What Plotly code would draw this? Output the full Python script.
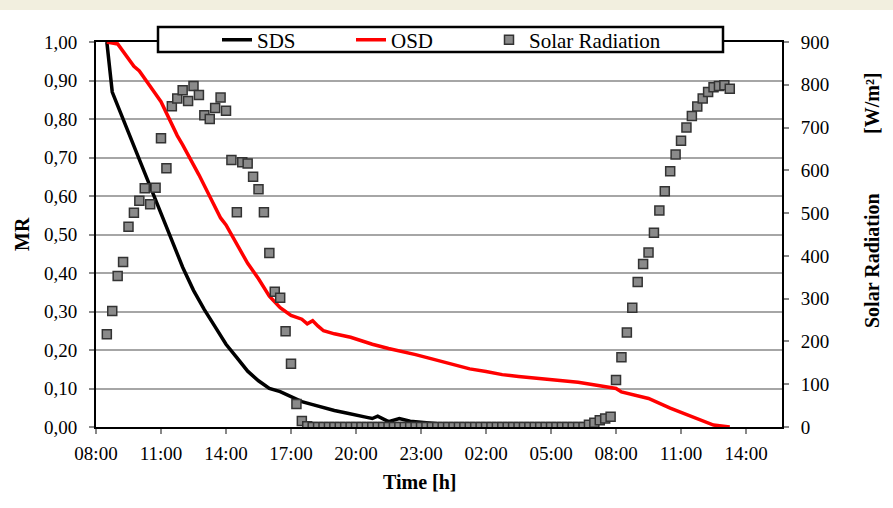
import plotly.graph_objects as go

# ---- data (hours after 08:00 of day 1) ----
sds_time = [0.5, 0.75, 1.0, 1.5, 2.0, 2.5, 3.0, 3.5, 4.0, 4.5, 5.0, 5.5, 6.0, 6.5, 7.0, 7.5,
            8.0, 8.5, 9.0, 9.5, 10.0, 10.5, 11.0, 11.5, 12.0, 12.5, 12.75, 13.0, 13.5, 13.75,
            14.0, 14.5, 15.0, 15.5, 16.0, 16.5, 17.25]
sds_mr = [1.00, 0.87, 0.835, 0.765, 0.695, 0.625, 0.56, 0.49, 0.415, 0.355, 0.305, 0.26, 0.215,
          0.18, 0.145, 0.12, 0.10, 0.092, 0.08, 0.066, 0.058, 0.05, 0.043, 0.037, 0.032, 0.025,
          0.022, 0.028, 0.014, 0.019, 0.022, 0.015, 0.013, 0.011, 0.007, 0.003, 0.0]

osd_time = [0.5, 1.0, 1.75, 2.0, 2.75, 3.0, 3.75, 4.0, 4.75, 5.0, 5.75, 6.0, 6.5, 7.0, 7.25, 7.5,
            8.0, 8.5, 9.0, 9.5, 9.75, 10.0, 10.25, 10.5, 11.0, 11.25, 11.5, 11.75, 12.25, 12.75,
            13.5, 14.0, 14.75, 15.5, 16.25, 17.25, 18.0, 18.75, 19.5, 20.5, 21.5, 22.25, 23.25,
            24.0, 24.25, 25.5, 26.5, 27.75, 28.5, 29.25]
osd_mr = [1.00, 0.995, 0.937, 0.925, 0.865, 0.845, 0.757, 0.733, 0.655, 0.628, 0.543, 0.525,
          0.475, 0.425, 0.405, 0.385, 0.34, 0.31, 0.29, 0.28, 0.268, 0.276, 0.262, 0.25, 0.242,
          0.239, 0.236, 0.233, 0.224, 0.215, 0.204, 0.198, 0.188, 0.177, 0.166, 0.151, 0.144,
          0.136, 0.131, 0.126, 0.121, 0.116, 0.107, 0.100, 0.091, 0.074, 0.049, 0.020, 0.005, 0.0]

# solar radiation, every 15 min starting 08:30
solar_rad = [217, 271, 353, 386, 468, 501, 529, 558, 521, 559, 675, 605, 750, 768, 787, 762,
             797, 776, 729, 720, 746, 770, 739, 624, 502, 619, 616, 585, 556, 502, 407, 316,
             302, 224, 148, 54, 14, 2] + [0] * 51 + \
            [5, 10, 16, 20, 24, 110, 163, 221, 279, 339, 381, 408, 454, 506, 551, 598, 637,
             669, 700, 727, 749, 768, 783, 794, 797, 799, 791]
solar_time = [0.5 + 0.25 * i for i in range(len(solar_rad))]

x_tickvals = [0, 3, 6, 9, 12, 15, 18, 21, 24, 27, 30]
x_ticktext = ["08:00", "11:00", "14:00", "17:00", "20:00", "23:00", "02:00", "05:00",
              "08:00", "11:00", "14:00"]
y_tickvals = [0, 0.1, 0.2, 0.3, 0.4, 0.5, 0.6, 0.7, 0.8, 0.9, 1.0]
y_ticktext = ["0,00", "0,10", "0,20", "0,30", "0,40", "0,50", "0,60", "0,70", "0,80", "0,90", "1,00"]
y2_tickvals = [0, 100, 200, 300, 400, 500, 600, 700, 800, 900]

FONT = "Liberation Serif, Times New Roman, serif"
W, H = 893, 508
L, R, T, B = 96, 111, 42, 81
PW, PH = W - L - R, H - T - B


def px(x):
    return (x - L) / PW


def py(y):
    return (H - B - y) / PH


tickfont = dict(family=FONT, size=19, color="black")
legfont = dict(family=FONT, size=21, color="black")
titlefont = dict(family=FONT, size=20, color="black")

fig = go.Figure()
fig.add_trace(go.Scatter(x=sds_time, y=sds_mr, name="SDS", mode="lines", legend="legend",
                         line=dict(color="black", width=3.5)))
fig.add_trace(go.Scatter(x=osd_time, y=osd_mr, name="OSD", mode="lines", legend="legend2",
                         line=dict(color="#ff0000", width=3.5)))
fig.add_trace(go.Scatter(x=solar_time, y=solar_rad, name="Solar Radiation", mode="markers",
                         yaxis="y2", legend="legend3",
                         marker=dict(symbol="square", size=9, color="#8a8a8a",
                                     line=dict(color="#333333", width=1.5))))


def leg(xpix):
    return dict(orientation="h", x=px(xpix), xanchor="left", y=py(40), yanchor="middle",
                bgcolor="rgba(0,0,0,0)", borderwidth=0, font=legfont, itemwidth=30)


fig.update_layout(
    width=W, height=H,
    margin=dict(l=L, r=R, t=T, b=B),
    paper_bgcolor="white", plot_bgcolor="white",
    font=dict(family=FONT, size=19, color="black"),
    showlegend=True,
    legend=leg(217), legend2=leg(351), legend3=leg(489),
    xaxis=dict(range=[0, 31.66], tickvals=x_tickvals, ticktext=x_ticktext, tickfont=tickfont,
               showgrid=False, zeroline=False, showline=True, linecolor="black", linewidth=2,
               mirror=True, ticks="outside", ticklen=5, tickcolor="#888888", tickwidth=1.5,
               ticklabelstandoff=3),
    yaxis=dict(range=[0, 1.0], tickvals=y_tickvals, ticktext=y_ticktext, tickfont=tickfont,
               showgrid=True, gridcolor="#a6a6a6", gridwidth=1.5, zeroline=False,
               showline=True, linecolor="black", linewidth=2, mirror=True,
               ticks="outside", ticklen=5, tickcolor="#888888", tickwidth=1.5,
               ticklabelstandoff=8),
    yaxis2=dict(range=[0, 900], tickvals=y2_tickvals, overlaying="y", side="right",
                tickfont=tickfont,
                showgrid=False, zeroline=False, showline=True, linecolor="black", linewidth=2,
                ticks="outside", ticklen=5, tickcolor="#888888", tickwidth=1.5,
                ticklabelstandoff=8),
    shapes=[
        dict(type="rect", xref="paper", yref="paper", x0=px(-5), x1=px(W + 5),
             y0=py(10), y1=py(-5), fillcolor="#f2efdf", line=dict(width=0), layer="above"),
        dict(type="rect", xref="paper", yref="paper", x0=px(158), x1=px(723),
             y0=py(52), y1=py(27), fillcolor="white", line=dict(color="black", width=2.5),
             layer="above"),
    ],
    annotations=[
        dict(text="<b>Time [h]</b>", xref="paper", yref="paper", x=px(420), y=py(482),
             xanchor="center", yanchor="middle", showarrow=False, font=titlefont),
        dict(text="<b>MR</b>", xref="paper", yref="paper", x=px(22), y=py(234),
             xanchor="center", yanchor="middle",
             showarrow=False, textangle=-90, font=titlefont),
        dict(text="<b>Solar Radiation</b>", xref="paper", yref="paper", x=px(872), y=py(261),
             xanchor="center", yanchor="middle",
             showarrow=False, textangle=-90, font=titlefont),
        dict(text="<b>[W/m²]</b>", xref="paper", yref="paper", x=px(872), y=py(103),
             xanchor="center", yanchor="middle",
             showarrow=False, textangle=-90, font=titlefont),
    ],
)

fig.write_html("out.html")
